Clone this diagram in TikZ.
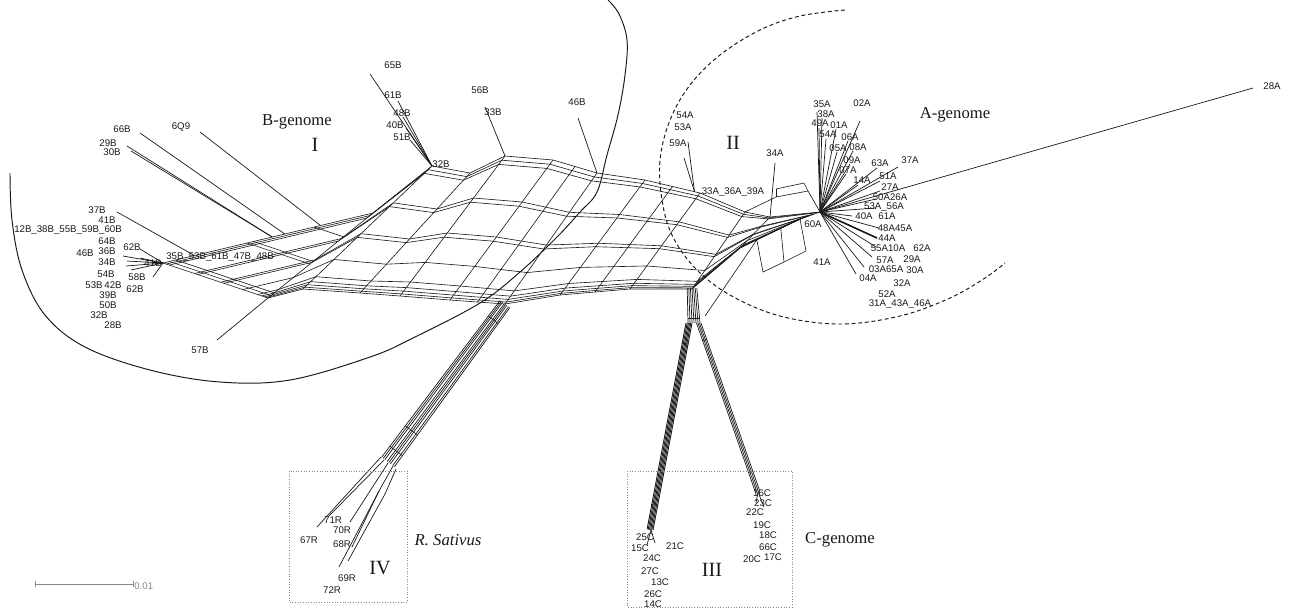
\documentclass[tikz,border=0pt]{standalone}
\usepackage{fontspec}
\setmainfont{Liberation Serif}
\setsansfont{Liberation Sans}
\usepackage{tikz}
\usetikzlibrary{calc}
\usepackage{xcolor}
\definecolor{tinta}{RGB}{25,25,25}
\definecolor{cinza}{RGB}{135,135,135}
\tikzset{
  ramo/.style={draw=tinta, line width=0.35pt},
  feixe/.style={draw=tinta, line width=0.4pt},
  folha/.style={draw=tinta, line width=0.4pt},
  rotulo/.style={font=\sffamily\fontsize{5.5}{6}\selectfont, inner sep=0pt, text=tinta},
  genoma/.style={font=\fontsize{9.5}{11}\selectfont, inner sep=0pt, text=tinta},
  numeral/.style={font=\fontsize{11.5}{12}\selectfont, inner sep=0pt, text=tinta},
  moldura/.style={draw=cinza, densely dotted, line width=0.5pt},
  arco/.style={draw=tinta, line width=0.55pt},
}
\begin{document}
\begin{tikzpicture}[x=0.2mm, y=-0.2mm]
\useasboundingbox (0,0) rectangle (1291,608);

% Arcos dos grupos
\draw[arco] plot[smooth, tension=0.6] coordinates {(10,173) (12,220) (22,270) (45,315) (85,347) (150,370) (220,382) (290,380) (370,357) (413,338) (480,303) (520,272) (557,237) (580,212) (597,192) (607,155) (618,115) (625,75) (627,40) (619,14) (608,0)};
\draw[arco, dash pattern={on 2.2pt off 1.6pt}] plot[smooth, tension=0.6] coordinates {(845,10) (800,16) (760,30) (720,55) (690,85) (670,120) (660,160) (662,200) (672,235) (695,268) (730,295) (780,316) (840,324) (900,316) (950,298) (985,278) (1005,263)};

% Pontos da rede
\coordinate (LH) at (163,263);
\coordinate (TL) at (373,213);
\coordinate (BL) at (268,298);
\foreach \i/\tx/\ty/\bx/\by in {0/373/213/268/298, 1/432/166/303/289, 2/470/173/360/293, 3/505/156/400/296, 4/553/160/450/300, 5/597/173/505/304, 6/645/180/560/295, 7/700/193/630/289, 8/745/212/692/289, 9/770/217/740/248, 10/820/212/800/219}{
  \coordinate (T\i) at (\tx,\ty);
  \coordinate (B\i) at (\bx,\by);
}
\coordinate (K1) at (B5);
\coordinate (K2) at (B8);
\coordinate (BH) at (T1);
\coordinate (AH) at (T10);

% Faixas longas
\foreach \f in {0,0.03,0.06,0.3,0.33,0.55,0.58,0.76,0.9,0.94,0.965,0.985,1}{
  \draw[ramo] ($(LH)!\f!(BL)$) \foreach \i in {0,...,10}{ -- ($(T\i)!\f!(B\i)$) };
}
% Travessas
\foreach \i in {0,...,10} \draw[ramo] (T\i) -- (B\i);
\foreach \i/\j/\p in {4/5/.5, 6/7/.5}
  \draw[ramo] ($(T\i)!\p!(T\j)$) -- ($(B\i)!\p!(B\j)$);
\foreach \v in {0,0.03,0.06,0.4,0.43,0.72}
  \draw[ramo] ($(LH)!\v!(TL)$) -- ($(BL)!\v!(TL)$);

% Escada junto ao grupo A
\coordinate (la1) at ($(B9)!0.28!(B10)$);
\coordinate (la2) at ($(B9)!0.68!(B10)$);
\coordinate (lb1) at (763,272);
\coordinate (lb2) at (784,262);
\coordinate (lb3) at (806,251);
\coordinate (lc) at (705,316);
\draw[ramo] (la1) -- (lb1) -- (lb2) -- (lb3) -- (B10);
\draw[ramo] (la2) -- (lb2);
\draw[ramo] (lc) -- (la1);
\coordinate (q1) at (776,189);
\coordinate (q2) at (804,183);
\coordinate (q3) at (776,197);
\coordinate (q4) at (808,191);
\draw[ramo] (T8) -- (q3) -- (q4) -- (AH);
\draw[ramo] (q1) -- (q2) -- (q4);
\draw[ramo] (q1) -- (q3);

% Ramo R
\coordinate (RE) at (388,462);
\foreach \o in {-8,-6,-4,-1,1,3,6,8}
  \draw[feixe] ($(K1)+(0.6*\o,0.45*\o)$) -- ($(RE)+(0.8*\o,0.6*\o)$);
\foreach \p/\h in {0.1/6, 0.8/7.8, 0.93/8}{
  \coordinate (rp) at ($(K1)!\p!(RE)$);
  \draw[ramo] ($(rp)+(-0.8*\h,-0.6*\h)$) -- ($(rp)+(0.8*\h,0.6*\h)$);
}

% Ramos C
\coordinate (CS) at (694,323);
\coordinate (CSL) at (690,323);
\coordinate (CSR) at (699,323);
\coordinate (CL) at (651,530);
\coordinate (CR) at (758,492);
\foreach \o in {-6,-4,-2,0,2,4,6}
  \draw[feixe] ($(K2)+(0.8*\o,-1)$) -- ($(CS)+(\o,0)$);
\draw[ramo] ($(CS)+(-6,-5)$) -- ($(CS)+(6,-5)$);
\foreach \o in {-4,-2.8,-1.6,-0.4,0.8,2}
  \draw[feixe, line width=0.5pt] ($(CSL)+(\o,0)$) -- ($(CL)+(0.98*\o,0.19*\o)$);
\foreach \o in {-2.5,-1,0.5,2}
  \draw[feixe] ($(CSR)+(\o,0)$) -- ($(CR)+(0.94*\o,-0.34*\o)$);
\foreach \p in {0.1,0.88}{
  \coordinate (cp) at ($(CSL)!\p!(CL)$);
  \draw[ramo] ($(cp)+(-4.5,-0.8)$) -- ($(cp)+(2.5,0.4)$);
  \coordinate (cq) at ($(CSR)!\p!(CR)$);
  \draw[ramo] ($(cq)+(-2.6,0.9)$) -- ($(cq)+(2.2,-0.8)$);
}

% Folhas B
\coordinate (u66) at ($(LH)!0.58!(TL)$);
\coordinate (u29) at ($(LH)!0.52!(TL)$);
\coordinate (u6Q9) at ($(LH)!0.75!(TL)$);
\coordinate (u37) at ($(LH)!0.15!(TL)$);
\coordinate (e66) at (140,133);
\coordinate (e29) at (127,146);
\coordinate (e30) at (131,151);
\coordinate (e6Q9) at (200,132);
\coordinate (e37) at (117,212);
\coordinate (e57) at (217,340);
\draw[folha] (u66) -- (e66);
\draw[folha] (u29) -- (e29);
\draw[folha] (u29) -- (e30);
\draw[folha] (u6Q9) -- (e6Q9);
\draw[folha] (u37) -- (e37);
\draw[folha] (BL) -- (e57);
\foreach \p/\x/\y in {eb1/123/256, eb2/127/261, eb3/126/266, eb4/131/270, eb5/140/258, eb6/140/249, eb7/153/277}{
  \coordinate (\p) at (\x,\y);
  \draw[folha] (LH) -- (\p);
}
\foreach \p/\x/\y in {et1/370/74, et2/398/101, et3/403/117, et4/406/128, et5/410/140}{
  \coordinate (\p) at (\x,\y);
  \draw[folha] (BH) -- (\p);
}
\coordinate (e33) at (485,107);
\coordinate (e46) at (578,118);
\draw[folha] (T3) -- (e33);
\draw[folha] (T5) -- (e46);

% Folhas A
\coordinate (u59) at ($(T6)!0.9!(T7)$);
\coordinate (e59a) at (688,142);
\coordinate (e59b) at (684,158);
\coordinate (e34) at (775,163);
\coordinate (e28) at (1253,88);
\draw[folha] (u59) -- (e59a);
\draw[folha] (u59) -- (e59b);
\draw[folha] (T9) -- (e34);
\draw[folha] (AH) -- (e28);
\foreach \p/\x/\y in {ea1/817/112, ea2/822/118, ea3/819/128, ea4/836/129, ea5/826/139, ea6/848/141, ea7/837/152, ea8/853/151, ea9/860/121, ea10/850/164, ea11/846/174, ea12/877/168, ea13/898/167, ea14/858/185, ea15/880/181, ea16/880/191, ea17/876/199, ea18/876/208, ea19/852/216, ea20/879/228, ea21/877/238, ea22/876/247, ea23/872/257, ea24/864/267, ea25/856/274}{
  \coordinate (\p) at (\x,\y);
  \draw[folha] (AH) -- (\p);
}
\draw[folha, line width=0.9pt] (AH) -- (ea21);

% Folhas R
\foreach \p/\x/\y in {rs1/381/457, rs2/384/460, rs3/388/463, rs4/393/466, rs5/396/469, rm1/379/491, rm2/385/494, e67/317/527, e71/328/517, e70/350/522, e68/352/547, e69/339/567, e72/348/561}
  \coordinate (\p) at (\x,\y);
\draw[folha] (rs1) -- (e67);
\draw[folha] (rs2) -- (e71);
\draw[folha] (rs3) -- (e70);
\draw[folha] (rs4) -- (rm1) -- (e68);
\draw[folha] (rm1) -- (e69);
\draw[folha] (rs5) -- (rm2) -- (e72);

% Folhas C
\foreach \p/\x/\y in {ec1/647/545, ec2/655/543, ec3/756/503, ec4/764/507}
  \coordinate (\p) at (\x,\y);
\draw[folha] (CL) -- (ec1);
\draw[folha] (CL) -- (ec2);
\draw[folha] (CR) -- (ec3);
\draw[folha] (CR) -- (ec4);

% Rotulos B
\foreach \nome/\x/\y/\txt in {l66B/122/129/66B, l6Q9/181/127/6Q9, l29B/108/143/29B, l30B/112/152/30B,
  l37B/97/210/37B, l41B/107/220/41B, l12B/68/230/12B\_38B\_55B\_59B\_60B,
  l64B/107/241/64B, l62B/132/247/62B, l36B/107/251/36B, l46B/85/253/46B,
  l34B/107/262/34B, l41Bb/153/263/41B, l35B/220/257/35B\_53B\_61B\_47B\_48B,
  l54B/106/274/54B, l53B/94/285/53B, l42B/113/285/42B, l58B/137/277/58B,
  l62Bb/135/289/62B, l39B/108/295/39B, l50B/108/305/50B, l32B/99/315/32B,
  l28B/113/325/28B, l57B/200/350/57B,
  l65B/393/65/65B, l61B/393/95/61B, l48B/402/113/48B, l40B/395/125/40B, l51B/402/137/51B,
  l32Bb/441/164/32B, l56B/480/90/56B, l33B/493/112/33B, l46Bb/577/102/46B}
  \node[rotulo] (\nome) at (\x,\y) {\txt};

% Rotulos A
\foreach \nome/\x/\y/\txt in {l54A/685/115/54A, l53A/683/127/53A, l59A/678/143/59A, l34A/775/153/34A,
  l33A/733/192/33A\_36A\_39A, l35A/822/104/35A, l02A/862/103/02A, l38A/826/114/38A,
  l49A/820/123/49A, l01A/839/125/01A, l54Ab/828/134/54A, l06A/850/137/06A,
  l05A/838/148/05A, l08A/858/147/08A, l09A/852/160/09A, l07A/848/170/07A,
  l63A/880/163/63A, l37A/910/160/37A, l14A/862/180/14A, l51A/888/176/51A,
  l27A/890/187/27A, l50A/890/197/50A26A, l53Ab/884/207/53A\_56A, l40A/864/216/40A,
  l61A/887/216/61A, l48A/895/228/48A45A, l44A/887/238/44A, l55A/888/248/55A10A,
  l62A/922/248/62A, l57A/885/260/57A, l29A/912/259/29A, l03A/886/269/03A65A,
  l30A/915/270/30A, l04A/868/278/04A, l32A/902/283/32A, l52A/887/294/52A,
  l31A/900/304/31A\_43A\_46A, l41A/822/262/41A, l60A/813/224/60A, l28A/1272/86/28A}
  \node[rotulo] (\nome) at (\x,\y) {\txt};

% Rotulos C e R
\foreach \nome/\x/\y/\txt in {l16C/762/493/16C, l23C/763/503/23C, l22C/755/512/22C, l19C/762/525/19C,
  l18C/768/535/18C, l66C/768/547/66C, l20C/752/559/20C, l17C/773/557/17C,
  l25C/645/537/25C, l15C/640/548/15C, l24C/652/558/24C, l21C/675/546/21C,
  l27C/650/571/27C, l13C/660/582/13C, l26C/653/594/26C, l14C/653/604/14C,
  l71R/333/520/71R, l70R/342/530/70R, l67R/309/540/67R, l68R/342/544/68R,
  l69R/347/578/69R, l72R/332/590/72R}
  \node[rotulo] (\nome) at (\x,\y) {\txt};

% Grupos
\node[genoma] (gB) at (297,122) {B-genome};
\node[genoma] (gA) at (955,115) {A-genome};
\node[genoma] (gC) at (840,540) {C-genome};
\node[genoma, font=\itshape\fontsize{9.5}{11}\selectfont] (gR) at (448,540) {R. Sativus};
\node[numeral] (nI) at (315,145) {I};
\node[numeral] (nII) at (733,143) {II};
\node[numeral] (nIII) at (712,570) {III};
\node[numeral] (nIV) at (380,568) {IV};

% Molduras
\draw[moldura] (289,471) rectangle (407,602);
\draw[moldura] (627,471) rectangle (792,607);

% Escala
\coordinate (s0) at (35,584);
\coordinate (s1) at (133,584);
\draw[cinza, line width=0.5pt] (s0) -- (s1);
\draw[cinza, line width=0.5pt] ($(s0)+(0,-3)$) -- ($(s0)+(0,3)$);
\draw[cinza, line width=0.5pt] ($(s1)+(0,-3)$) -- ($(s1)+(0,3)$);
\node[rotulo, text=cinza, anchor=west] (escala) at (134,586) {0.01};

\end{tikzpicture}
\end{document}
